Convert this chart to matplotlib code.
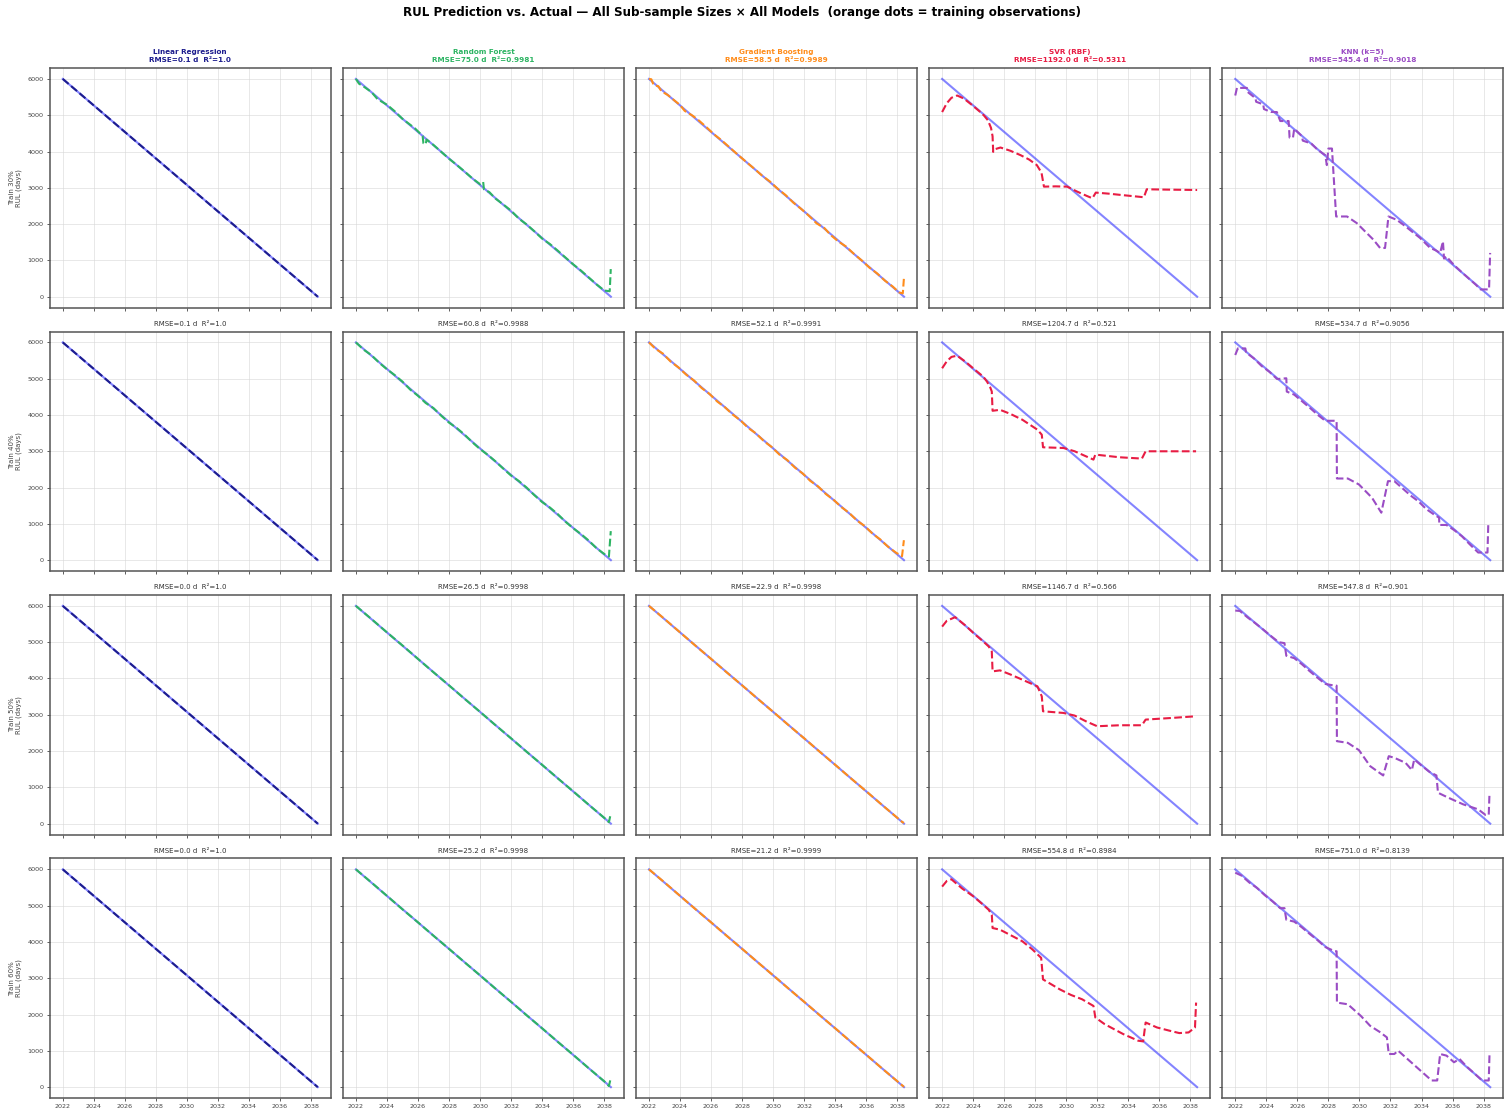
import matplotlib
matplotlib.use("Agg")
import matplotlib.pyplot as plt
import matplotlib.dates as mdates
from datetime import datetime, timedelta

# ---------------- data ----------------
train_sizes = ["30%", "40%", "50%", "60%"]
model_names = ["Linear Regression", "Random Forest", "Gradient Boosting", "SVR (RBF)", "KNN (k=5)"]
model_colors = ["#1d1d8e", "#2db463", "#ff8c1a", "#e81c43", "#9a4cc4"]

rmse_days = [
    [0.1, 75.0, 58.5, 1192.0, 545.4],
    [0.1, 60.8, 52.1, 1204.7, 534.7],
    [0.0, 26.5, 22.9, 1146.7, 547.8],
    [0.0, 25.2, 21.2, 554.8, 751.0],
]
r2_scores = [
    [1.0, 0.9981, 0.9989, 0.5311, 0.9018],
    [1.0, 0.9988, 0.9991, 0.521, 0.9056],
    [1.0, 0.9998, 0.9998, 0.566, 0.901],
    [1.0, 0.9998, 0.9999, 0.8984, 0.8139],
]

# actual remaining useful life (decimal year, days)
actual_years = [2022.0, 2038.427]
actual_rul = [6000, 0]

# predictions as (decimal year, predicted RUL days)
lr_30 = [(2022.0, 6000), (2038.427, 0)]
lr_40 = [(2022.0, 6000), (2038.427, 0)]
lr_50 = [(2022.0, 6000), (2038.427, 0)]
lr_60 = [(2022.0, 6000), (2038.427, 0)]

rf_30 = [(2022.0, 6000), (2022.2, 5870), (2022.5, 5790), (2023.0, 5640), (2023.4, 5440),
         (2024.0, 5290), (2024.5, 5110), (2025.0, 4900), (2025.8, 4640), (2026.3, 4430),
         (2026.35, 4230), (2026.5, 4200), (2026.55, 4330), (2027.0, 4180), (2027.5, 3990),
         (2028.0, 3800), (2028.5, 3630), (2029.0, 3450), (2029.5, 3260), (2030.0, 3100),
         (2030.2, 3160), (2030.25, 2960), (2030.6, 2880), (2031.0, 2700), (2031.5, 2540),
         (2032.0, 2370), (2032.5, 2150), (2033.0, 1990), (2033.5, 1800), (2034.0, 1600),
         (2034.5, 1450), (2035.0, 1270), (2035.5, 1080), (2036.0, 890), (2036.5, 720),
         (2037.0, 530), (2037.5, 340), (2038.0, 170), (2038.35, 150), (2038.42, 760)]
rf_40 = [(2022.0, 6000), (2022.5, 5800), (2023.0, 5650), (2023.5, 5440), (2024.0, 5260),
         (2024.5, 5100), (2025.0, 4920), (2025.5, 4700), (2026.0, 4530), (2026.5, 4330),
         (2027.0, 4190), (2027.5, 3980), (2028.0, 3790), (2028.5, 3640), (2029.0, 3460),
         (2029.5, 3250), (2030.0, 3060), (2030.5, 2900), (2031.0, 2720), (2031.5, 2520),
         (2032.0, 2330), (2032.5, 2180), (2033.0, 2000), (2033.5, 1790), (2034.0, 1600),
         (2034.5, 1450), (2035.0, 1270), (2035.5, 1060), (2036.0, 880), (2036.5, 720),
         (2037.0, 540), (2037.5, 330), (2038.0, 170), (2038.3, 100), (2038.42, 800)]
rf_50 = [(2022.0, 6000), (2023.0, 5640), (2024.0, 5270), (2025.0, 4910), (2026.0, 4540),
         (2027.0, 4170), (2028.0, 3810), (2029.0, 3440), (2030.0, 3080), (2031.0, 2710),
         (2032.0, 2350), (2033.0, 1980), (2034.0, 1620), (2035.0, 1250), (2036.0, 890),
         (2037.0, 520), (2038.0, 160), (2038.3, 40), (2038.42, 280)]
rf_60 = [(2022.0, 6000), (2023.0, 5640), (2024.0, 5270), (2025.0, 4900), (2026.0, 4540),
         (2027.0, 4170), (2028.0, 3810), (2029.0, 3440), (2030.0, 3080), (2031.0, 2710),
         (2032.0, 2350), (2033.0, 1980), (2034.0, 1620), (2035.0, 1250), (2036.0, 890),
         (2037.0, 520), (2038.0, 160), (2038.3, 30), (2038.42, 250)]

gb_30 = [(2022.0, 6000), (2022.15, 5990), (2022.3, 5830), (2022.6, 5800), (2022.8, 5660),
         (2023.2, 5560), (2023.6, 5420), (2024.0, 5280), (2024.3, 5120), (2024.8, 4990),
         (2025.2, 4860), (2025.7, 4670), (2026.2, 4470), (2026.7, 4300), (2027.2, 4110),
         (2027.7, 3920), (2028.3, 3700), (2028.8, 3520), (2029.3, 3330), (2029.8, 3170),
         (2030.3, 2970), (2030.8, 2800), (2031.3, 2590), (2031.8, 2420), (2032.3, 2230),
         (2032.8, 2020), (2033.3, 1890), (2033.7, 1700), (2034.2, 1520), (2034.7, 1380),
         (2035.2, 1180), (2035.7, 1000), (2036.2, 800), (2036.7, 640), (2037.2, 440),
         (2037.7, 280), (2038.1, 120), (2038.35, 90), (2038.42, 500)]
gb_40 = [(2022.0, 6000), (2022.4, 5830), (2022.9, 5690), (2023.4, 5470), (2023.9, 5310),
         (2024.4, 5110), (2024.9, 4950), (2025.4, 4740), (2025.9, 4580), (2026.4, 4370),
         (2026.9, 4210), (2027.4, 4010), (2027.9, 3850), (2028.4, 3640), (2028.9, 3490),
         (2029.4, 3280), (2029.9, 3120), (2030.4, 2910), (2030.9, 2760), (2031.4, 2550),
         (2031.9, 2390), (2032.4, 2180), (2032.9, 2030), (2033.4, 1820), (2033.9, 1660),
         (2034.4, 1460), (2034.9, 1300), (2035.4, 1090), (2035.9, 940), (2036.4, 730),
         (2036.9, 570), (2037.4, 370), (2037.9, 210), (2038.3, 110), (2038.42, 550)]
gb_50 = [(2022.0, 6000), (2023.0, 5640), (2024.0, 5270), (2025.0, 4900), (2026.0, 4540),
         (2027.0, 4170), (2028.0, 3810), (2029.0, 3440), (2030.0, 3080), (2031.0, 2710),
         (2032.0, 2350), (2033.0, 1980), (2034.0, 1620), (2035.0, 1250), (2036.0, 890),
         (2037.0, 520), (2038.0, 160), (2038.3, 50), (2038.42, 20)]
gb_60 = [(2022.0, 6000), (2023.0, 5640), (2024.0, 5270), (2025.0, 4900), (2026.0, 4540),
         (2027.0, 4170), (2028.0, 3810), (2029.0, 3440), (2030.0, 3080), (2031.0, 2710),
         (2032.0, 2350), (2033.0, 1980), (2034.0, 1620), (2035.0, 1250), (2036.0, 890),
         (2037.0, 520), (2038.0, 160), (2038.42, 10)]

svr_30 = [(2022.0, 5087), (2022.3, 5330), (2022.6, 5480), (2022.97, 5543), (2023.4, 5460),
          (2023.9, 5290), (2024.4, 5110), (2024.69, 4995), (2024.95, 4860), (2025.15, 4650),
          (2025.25, 4420), (2025.29, 3990), (2025.45, 4070), (2025.76, 4110), (2026.4, 4020),
          (2027.05, 3900), (2027.6, 3780), (2028.1, 3626), (2028.4, 3420), (2028.56, 3032),
          (2029.3, 3040), (2030.06, 3032), (2030.7, 2895), (2031.3, 2780), (2031.68, 2712),
          (2031.9, 2868), (2032.7, 2840), (2033.5, 2804), (2035.0, 2740), (2035.18, 2959),
          (2036.5, 2950), (2038.427, 2940)]
svr_40 = [(2022.0, 5287), (2022.3, 5480), (2022.6, 5600), (2022.96, 5634), (2023.5, 5470),
          (2024.1, 5250), (2024.65, 5058), (2024.89, 4920), (2025.1, 4760), (2025.2, 4646),
          (2025.25, 4116), (2025.73, 4143), (2026.4, 4030), (2027.17, 3869), (2028.14, 3595),
          (2028.42, 3457), (2028.5, 3110), (2029.82, 3091), (2030.54, 3000), (2031.26, 2863),
          (2031.75, 2771), (2031.87, 2909), (2033.43, 2835), (2034.87, 2799), (2035.11, 3000),
          (2038.36, 3000)]
svr_50 = [(2022.0, 5429), (2022.3, 5590), (2022.84, 5689), (2023.5, 5460), (2024.1, 5220),
          (2024.65, 5020), (2025.0, 4882), (2025.2, 4745), (2025.25, 4196), (2025.73, 4223),
          (2026.4, 4110), (2027.17, 3966), (2028.14, 3783), (2028.42, 3508), (2028.5, 3096),
          (2029.82, 3050), (2030.54, 2977), (2031.26, 2821), (2031.99, 2684), (2033.43, 2711),
          (2034.87, 2711), (2035.11, 2867), (2036.7, 2910), (2038.36, 2959)]
svr_60 = [(2022.0, 5525), (2022.3, 5680), (2022.6, 5726), (2023.3, 5470), (2024.0, 5260),
          (2024.65, 5023), (2025.0, 4886), (2025.2, 4749), (2025.25, 4384), (2025.73, 4338),
          (2026.4, 4190), (2027.17, 4018), (2027.8, 3800), (2028.38, 3562), (2028.5, 2968),
          (2029.58, 2694), (2030.3, 2540), (2031.02, 2420), (2031.75, 2237), (2031.87, 1918),
          (2032.47, 1735), (2033.67, 1461), (2034.63, 1279), (2034.95, 1260), (2035.11, 1781),
          (2035.84, 1644), (2036.6, 1560), (2037.28, 1489), (2037.88, 1507), (2038.29, 1644),
          (2038.36, 2329)]

knn_30 = [(2022.0, 5543), (2022.11, 5753), (2022.75, 5753), (2022.8, 5640), (2023.3, 5470),
          (2023.35, 5370), (2023.8, 5300), (2023.85, 5170), (2024.3, 5090), (2024.68, 5087),
          (2024.9, 4840), (2025.44, 4840), (2025.5, 4384), (2025.72, 4384), (2025.8, 4630),
          (2026.3, 4420), (2026.35, 4300), (2026.9, 4220), (2027.3, 4050), (2027.8, 3900),
          (2027.9, 3626), (2028.0, 4082), (2028.23, 4082), (2028.5, 2210), (2029.2, 2210),
          (2029.83, 2027), (2030.47, 1753), (2030.9, 1571), (2031.33, 1342), (2031.65, 1342),
          (2031.87, 2210), (2032.4, 2119), (2032.9, 1960), (2033.4, 1790), (2033.9, 1620),
          (2034.56, 1342), (2034.9, 1280), (2035.2, 1205), (2035.38, 1525), (2035.45, 1050),
          (2035.6, 1110), (2036.06, 886), (2036.6, 670), (2037.1, 480), (2037.5, 330),
          (2037.8, 200), (2038.35, 200), (2038.42, 1205)]
knn_40 = [(2022.0, 5653), (2022.17, 5835), (2022.65, 5835), (2022.7, 5720), (2023.2, 5560),
          (2023.7, 5350), (2024.2, 5190), (2024.7, 4990), (2025.29, 5012), (2025.32, 4645),
          (2025.8, 4560), (2026.3, 4380), (2026.8, 4200), (2027.3, 4010), (2027.8, 3840),
          (2028.41, 3841), (2028.53, 3841), (2028.55, 2250), (2029.25, 2250), (2029.97, 2085),
          (2030.81, 1720), (2031.41, 1308), (2031.84, 2177), (2032.25, 2177), (2032.8, 1970),
          (2033.3, 1780), (2033.8, 1620), (2034.3, 1410), (2034.8, 1260), (2035.13, 1171),
          (2035.15, 970), (2035.6, 970), (2036.1, 830), (2036.6, 660), (2037.1, 440),
          (2037.65, 210), (2038.25, 210), (2038.3, 988)]
knn_50 = [(2022.0, 5872), (2022.3, 5860), (2022.8, 5680), (2023.3, 5520), (2023.8, 5350),
          (2024.3, 5170), (2024.8, 5000), (2025.17, 4974), (2025.29, 4626), (2025.8, 4560),
          (2026.3, 4390), (2026.8, 4200), (2027.3, 4020), (2027.8, 3850), (2028.41, 3802),
          (2028.53, 3802), (2028.55, 2272), (2029.25, 2226), (2029.97, 2025), (2030.69, 1585),
          (2031.53, 1328), (2031.89, 1859), (2032.25, 1814), (2032.97, 1676), (2033.38, 1475),
          (2033.53, 1768), (2034.0, 1600), (2034.5, 1430), (2034.96, 1328), (2035.06, 852),
          (2035.73, 714), (2036.69, 531), (2037.65, 394), (2038.13, 238), (2038.33, 238),
          (2038.38, 852)]
knn_60 = [(2022.0, 5909), (2022.4, 5830), (2022.9, 5640), (2023.4, 5490), (2023.9, 5290),
          (2024.4, 5120), (2024.9, 4930), (2025.17, 4932), (2025.29, 4612), (2025.8, 4560),
          (2026.3, 4400), (2026.8, 4220), (2027.3, 4050), (2027.8, 3860), (2028.41, 3744),
          (2028.53, 3744), (2028.55, 2329), (2029.25, 2283), (2030.09, 1963), (2030.69, 1689),
          (2031.29, 1525), (2031.77, 1370), (2031.89, 913), (2032.25, 913), (2032.49, 1005),
          (2033.33, 685), (2034.05, 411), (2034.65, 183), (2035.01, 183), (2035.2, 913),
          (2035.61, 868), (2036.09, 685), (2036.45, 776), (2036.9, 570), (2037.4, 380),
          (2037.9, 183), (2038.33, 183), (2038.38, 913)]

predictions = [
    [lr_30, rf_30, gb_30, svr_30, knn_30],
    [lr_40, rf_40, gb_40, svr_40, knn_40],
    [lr_50, rf_50, gb_50, svr_50, knn_50],
    [lr_60, rf_60, gb_60, svr_60, knn_60],
]

# ---------------- helpers ----------------
_origin = datetime(2022, 1, 1)


def to_dates(years):
    return [_origin + timedelta(days=(y - 2022.0) * 365.25) for y in years]


# ---------------- figure ----------------
plt.rcParams["font.family"] = ["DejaVu Sans"]
fig, axes = plt.subplots(4, 5, figsize=(15.11, 11.10), dpi=100, sharex=True, sharey=True)
fig.subplots_adjust(left=0.0331, right=0.9947, top=0.9387, bottom=0.0108,
                    wspace=0.045, hspace=0.10)

actual_dates = to_dates(actual_years)

for r in range(4):
    for c in range(5):
        ax = axes[r, c]
        pts = predictions[r][c]
        px = to_dates([p[0] for p in pts])
        py = [p[1] for p in pts]
        ax.plot(actual_dates, actual_rul, color="#3333ff", alpha=0.6, lw=1.5, zorder=2)
        ax.plot(px, py, color=model_colors[c], lw=1.5, ls="--", zorder=3)

        ax.grid(True, color="#d8d8d8", lw=0.6, alpha=0.7)
        ax.set_axisbelow(True)
        for sp in ax.spines.values():
            sp.set_color("#555555")
            sp.set_linewidth(1.1)
        ax.tick_params(labelsize=4.6, length=2.5, width=0.6, colors="#444444", pad=2)

        stats = f"RMSE={rmse_days[r][c]} d  R\u00b2={r2_scores[r][c]}"
        if r == 0:
            ax.set_title(f"{model_names[c]}\n{stats}", fontsize=5.2, fontweight="bold",
                         color=model_colors[c], pad=4, linespacing=1.55)
        else:
            ax.set_title(stats, fontsize=5.0, color="#333333", pad=4)

        if c == 0:
            ax.set_ylabel(f"Train {train_sizes[r]}\nRUL (days)", fontsize=5.0,
                          color="#444444", labelpad=4, linespacing=1.2)

axes[0, 0].xaxis.set_major_locator(mdates.YearLocator(2))
axes[0, 0].xaxis.set_major_formatter(mdates.DateFormatter("%Y"))
axes[0, 0].set_yticks([0, 1000, 2000, 3000, 4000, 5000, 6000])

fig.suptitle("RUL Prediction vs. Actual \u2014 All Sub-sample Sizes \u00d7 All Models  "
             "(orange dots = training observations)",
             fontsize=8.6, fontweight="bold", x=0.491, y=0.989, va="center")

fig.savefig("out.png", dpi=100)
